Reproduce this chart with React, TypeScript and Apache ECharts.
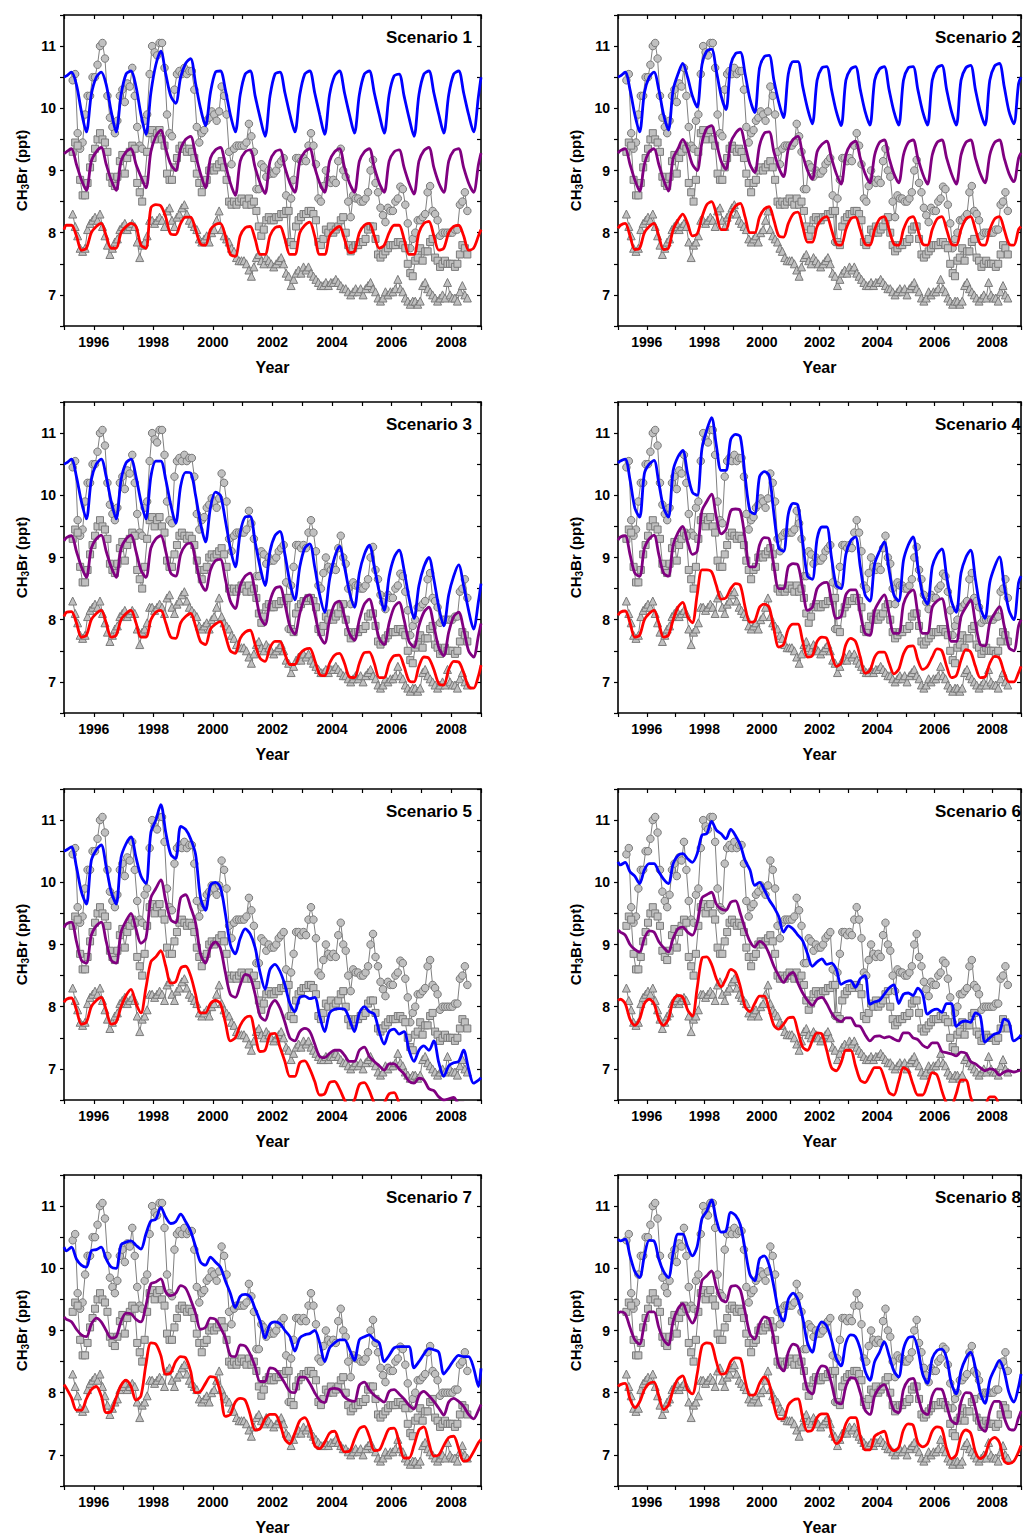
import React, { useEffect, useRef } from "react";
import * as echarts from "echarts";

// ---------- labels ----------
const SCENARIOS = ["Scenario 1", "Scenario 2", "Scenario 3", "Scenario 4", "Scenario 5", "Scenario 6", "Scenario 7", "Scenario 8"];
const X_LABEL = "Year";
const Y_LABEL = "CH{s|3}Br (ppt)";
const X_MIN = 1995;
const X_MAX = 2009;
const Y_MIN = 6.5;
const Y_MAX = 11.5;

// ---------- observations (monthly, Jan..Dec, 1995-2008) ----------
const OBS_CIRCLES = [
  null, null, null, 10.45, 10.55, 9.6, 9.35, 9.45, 9.9, 10.2, 10.2, 10.5,
  10.5, 10.7, 11.0, 11.05, 10.8, 10.2, 9.85, 9.7, 9.6, 9.8, 10.2, 10.3,
  10.1, 10.4, 10.35, 10.65, 10.2, 9.7, 9.4, 9.35, 9.8, 9.9, 10.55, 11.0,
  10.9, 10.85, 11.05, 11.05, 10.65, 9.9, 9.6, 9.55, 10.3, 10.55, 10.6, 10.55,
  10.65, 10.55, 10.6, 10.6, 10.3, 9.7, 9.45, 9.6, 9.65, 9.8, 9.85, 9.95,
  9.9, 9.8, 9.95, 10.35, 10.2, 9.9, 9.3, 9.1, 9.35, 9.4, 9.4, 9.4,
  9.4, 9.45, 9.75, 9.55, 9.3, 8.7, 8.7, 9.1, 9.05, 8.9, 9.0, 8.95,
  8.95, 9.0, 9.1, 9.15, 9.2, 8.6, 7.85, 8.55, 8.85, 9.2, 9.2, 9.15,
  9.2, 9.15, 9.4, 9.6, 9.4, 9.1, 8.55, 8.5, 8.75, 9.0, 8.85, 8.8,
  8.85, 8.8, 9.15, 9.35, 9.0, 8.9, 8.5, 8.25, 8.6, 8.55, 8.55, 8.5,
  8.5, 8.55, 8.65, 9.0, 9.17, 8.8, 8.65, 8.4, 8.28, 8.17, 8.4, 8.35,
  8.35, 8.5, 8.55, 8.74, 8.7, 8.45, 8.15, 7.75, 7.9, 8.0, 8.2, 8.2,
  8.25, 8.3, 8.65, 8.75, 8.35, 8.3, 8.2, 7.95, 8.0, 8.0, 8.0, 8.0,
  8.0, 8.05, 8.05, 8.45, 8.5, 8.65, 8.35, null, null, null, null, null,
];
const OBS_SQUARES = [
  null, null, null, 9.3, 9.45, 9.4, 8.85, 8.6, 8.6, 8.8, 9.05, 9.2,
  9.35, 9.5, 9.6, 9.5, 9.45, 9.3, 8.9, 8.8, 8.75, 8.9, 9.15, 9.25,
  8.95, 9.2, 9.3, 9.4, 9.35, 8.8, 8.65, 8.5, 8.85, 9.3, 9.6, 9.65,
  9.5, 9.6, 9.65, 9.5, 9.4, 8.95, 8.85, 8.85, 9.05, 9.2, 9.35, 9.4,
  9.35, 9.3, 9.35, 9.3, 9.2, 8.95, 8.8, 8.65, 8.8, 8.85, 9.0, 9.05,
  9.0, 9.05, 9.1, 9.15, 9.05, 8.85, 8.5, 8.45, 8.5, 8.45, 8.5, 8.55,
  8.5, 8.45, 8.55, 8.45, 8.5, 8.35, 8.1, 7.95, 8.05, 8.2, 8.25, 8.2,
  8.2, 8.25, 8.25, 8.3, 8.3, 8.35, 8.35, 7.85, 7.8, 8.1, 8.2, 8.25,
  8.3, 8.3, 8.35, 8.35, 8.3, 8.2, 7.85, 7.8, 7.9, 8.05, 8.0, 8.1,
  8.0, 8.05, 8.1, 8.2, 8.25, 8.0, 7.8, 7.7, 7.75, 7.8, 7.8, 7.85,
  7.85, 7.9, 8.05, 8.1, 8.1, 7.9, 7.65, 7.6, 7.65, 7.7, 7.75, 7.8,
  7.8, 7.8, 7.85, 7.85, 7.8, 7.75, 7.5, 7.35, 7.3, 7.55, 7.6, 7.75,
  7.55, 7.7, 7.7, 7.85, 7.9, 7.6, 7.55, 7.45, 7.5, 7.55, 7.5, 7.5,
  7.5, 7.45, 7.5, 7.65, 7.8, 7.75, 7.65, null, null, null, null, null,
];
const OBS_TRIANGLES = [
  null, null, null, 8.3, 8.1, 7.95, 7.75, 7.7, 7.75, 8.05, 8.15, 8.2,
  8.25, 8.2, 8.3, 8.1, 7.95, 7.8, 7.65, 7.75, 7.85, 7.9, 8.05, 8.1,
  8.15, 8.05, 8.1, 8.15, 8.1, 7.85, 7.6, 7.8, 7.85, 7.95, 8.2, 8.2,
  8.15, 8.2, 8.25, 8.2, 8.1, 8.35, 8.4, 8.2, 8.1, 8.25, 8.3, 8.4,
  8.45, 8.3, 8.2, 8.15, 8.1, 8.05, 7.9, 7.85, 7.9, 7.95, 7.85, 8.0,
  8.05, 8.2, 8.35, 8.05, 7.95, 7.9, 7.85, 7.75, 7.7, 7.6, 7.55, 7.55,
  7.55, 7.5, 7.4, 7.3, 7.45, 7.6, 7.65, 7.55, 7.5, 7.6, 7.55, 7.5,
  7.45, 7.5, 7.55, 7.6, 7.5, 7.35, 7.3, 7.15, 7.25, 7.35, 7.4, 7.35,
  7.45, 7.4, 7.45, 7.35, 7.3, 7.25, 7.2, 7.15, 7.15, 7.2, 7.15, 7.2,
  7.2, 7.25, 7.2, 7.15, 7.1, 7.1, 7.05, 7.0, 7.05, 7.1, 7.05, 7.1,
  7.0, 7.1, 7.15, 7.2, 7.1, 7.05, 6.95, 6.9, 6.95, 7.05, 7.0, 7.05,
  7.05, 7.1, 7.25, 7.1, 7.05, 6.95, 6.9, 6.85, 6.9, 6.9, 6.85, 6.9,
  7.15, 7.2, 7.1, 7.05, 7.0, 6.95, 6.9, 6.95, 7.0, 6.95, 7.2, 7.0,
  6.95, 6.95, 6.9, 7.05, 7.15, 7.0, 6.95, null, null, null, null, null,
];

// ---------- model runs: Jan 1995, then Feb/Apr/Jun/Aug/Oct/Dec of each year, then Jan 2009 ----------
const S1_BLUE = [10.5,
  10.52, 10.58, 10.38, 9.95, 9.62, 10.22,
  10.5, 10.58, 10.38, 9.95, 9.62, 10.22,
  10.55, 10.6, 10.35, 9.9, 9.58, 10.25,
  10.7, 10.92, 10.55, 10.2, 10.08, 10.5,
  10.72, 10.8, 10.4, 10.0, 9.72, 10.25,
  10.58, 10.6, 10.3, 9.9, 9.62, 10.22,
  10.55, 10.6, 10.2, 9.85, 9.55, 10.2,
  10.55, 10.58, 10.25, 9.9, 9.62, 10.22,
  10.55, 10.6, 10.25, 9.9, 9.58, 10.22,
  10.52, 10.6, 10.25, 9.9, 9.6, 10.22,
  10.55, 10.6, 10.25, 9.9, 9.6, 10.22,
  10.52, 10.55, 10.2, 9.85, 9.55, 10.22,
  10.55, 10.6, 10.25, 9.9, 9.6, 10.22,
  10.55, 10.6, 10.25, 9.9, 9.62, 10.2,
  10.5];
const S1_PURPLE = [9.27,
  9.3, 9.35, 9.1, 8.85, 8.68, 9.15,
  9.3, 9.37, 9.1, 8.85, 8.68, 9.15,
  9.3, 9.35, 9.1, 8.9, 8.72, 9.3,
  9.55, 9.65, 9.35, 9.1, 9.0, 9.35,
  9.5, 9.55, 9.25, 8.95, 8.72, 9.2,
  9.33, 9.37, 9.1, 8.8, 8.6, 9.15,
  9.3, 9.33, 9.05, 8.8, 8.63, 9.15,
  9.3, 9.33, 9.05, 8.8, 8.65, 9.15,
  9.3, 9.35, 9.05, 8.8, 8.65, 9.15,
  9.3, 9.35, 9.05, 8.8, 8.65, 9.15,
  9.3, 9.35, 9.05, 8.8, 8.65, 9.15,
  9.3, 9.33, 9.05, 8.8, 8.62, 9.15,
  9.32, 9.37, 9.05, 8.8, 8.65, 9.15,
  9.32, 9.35, 9.05, 8.8, 8.65, 9.1,
  9.28];
const S1_RED = [8.05,
  8.12, 8.12, 7.95, 7.72, 7.75, 8.0,
  8.1, 8.15, 7.95, 7.75, 7.75, 8.0,
  8.1, 8.15, 8.1, 7.8, 7.75, 8.4,
  8.45, 8.43, 8.25, 7.98, 7.97, 8.15,
  8.25, 8.25, 8.05, 7.82, 7.8, 8.05,
  8.13, 8.15, 7.95, 7.65, 7.62, 7.95,
  8.08, 8.1, 7.9, 7.65, 7.65, 7.95,
  8.08, 8.1, 7.9, 7.65, 7.65, 8.0,
  8.12, 8.17, 7.95, 7.65, 7.65, 7.95,
  8.05, 8.1, 7.9, 7.68, 7.7, 8.0,
  8.12, 8.15, 7.95, 7.75, 7.8, 8.0,
  8.12, 8.12, 7.9, 7.65, 7.65, 8.0,
  8.15, 8.18, 7.95, 7.72, 7.75, 8.0,
  8.1, 8.12, 7.95, 7.72, 7.75, 7.95,
  8.05];

const S2_BLUE = [10.5,
  10.52, 10.58, 10.3, 9.9, 9.62, 10.25,
  10.5, 10.58, 10.3, 9.9, 9.65, 10.3,
  10.55, 10.72, 10.5, 10.2, 10.02, 10.7,
  10.92, 10.95, 10.6, 10.2, 9.98, 10.7,
  10.88, 10.9, 10.55, 10.15, 9.93, 10.65,
  10.83, 10.85, 10.45, 10.1, 9.85, 10.55,
  10.75, 10.75, 10.35, 10.0, 9.75, 10.45,
  10.65, 10.67, 10.3, 9.95, 9.72, 10.45,
  10.63, 10.67, 10.3, 9.95, 9.73, 10.45,
  10.63, 10.67, 10.3, 9.95, 9.73, 10.45,
  10.65, 10.67, 10.3, 9.95, 9.73, 10.45,
  10.65, 10.69, 10.3, 9.95, 9.73, 10.45,
  10.65, 10.69, 10.3, 9.95, 9.73, 10.45,
  10.68, 10.72, 10.35, 9.95, 9.75, 10.4,
  10.5];
const S2_PURPLE = [9.28,
  9.32, 9.35, 9.1, 8.85, 8.67, 9.1,
  9.3, 9.35, 9.1, 8.85, 8.67, 9.2,
  9.35, 9.5, 9.35, 9.1, 9.0, 9.45,
  9.68, 9.72, 9.45, 9.15, 9.02, 9.45,
  9.6, 9.67, 9.4, 9.1, 8.97, 9.4,
  9.6, 9.62, 9.3, 9.05, 8.9, 9.35,
  9.5, 9.55, 9.25, 9.0, 8.86, 9.3,
  9.42, 9.47, 9.2, 8.95, 8.78, 9.25,
  9.42, 9.47, 9.2, 8.95, 8.8, 9.25,
  9.45, 9.49, 9.2, 8.95, 8.8, 9.25,
  9.45, 9.49, 9.2, 8.95, 8.78, 9.25,
  9.45, 9.49, 9.2, 8.95, 8.78, 9.25,
  9.45, 9.49, 9.2, 8.95, 8.8, 9.25,
  9.45, 9.49, 9.2, 8.95, 8.82, 9.2,
  9.28];
const S2_RED = [8.07,
  8.12, 8.15, 7.95, 7.73, 7.75, 8.0,
  8.1, 8.15, 7.95, 7.73, 7.75, 8.05,
  8.2, 8.3, 8.15, 7.95, 7.98, 8.25,
  8.45, 8.5, 8.3, 8.05, 8.05, 8.3,
  8.43, 8.47, 8.25, 8.0, 8.0, 8.25,
  8.38, 8.42, 8.2, 7.95, 7.93, 8.15,
  8.3, 8.33, 8.1, 7.85, 7.85, 8.1,
  8.22, 8.26, 8.05, 7.82, 7.8, 8.05,
  8.22, 8.25, 8.05, 7.82, 7.8, 8.05,
  8.22, 8.26, 8.05, 7.82, 7.8, 8.05,
  8.22, 8.26, 8.05, 7.82, 7.8, 8.05,
  8.22, 8.26, 8.05, 7.82, 7.8, 8.05,
  8.22, 8.26, 8.05, 7.82, 7.8, 8.05,
  8.22, 8.26, 8.05, 7.82, 7.8, 8.05,
  8.1];

const S3_BLUE = [10.5,
  10.52, 10.58, 10.3, 9.9, 9.62, 10.25,
  10.5, 10.58, 10.3, 9.9, 9.62, 10.25,
  10.52, 10.58, 10.3, 9.9, 9.62, 10.3,
  10.55, 10.55, 10.25, 9.85, 9.55, 10.15,
  10.37, 10.36, 10.0, 9.55, 9.25, 9.8,
  10.05, 10.0, 9.6, 9.15, 8.85, 9.4,
  9.65, 9.66, 9.25, 8.85, 8.55, 9.1,
  9.35, 9.42, 9.05, 8.6, 8.32, 8.85,
  9.15, 9.22, 8.85, 8.4, 8.12, 8.65,
  9.0, 9.18, 8.85, 8.45, 8.2, 8.75,
  9.05, 9.2, 8.85, 8.45, 8.15, 8.7,
  9.0, 9.12, 8.8, 8.35, 8.02, 8.55,
  8.85, 9.0, 8.65, 8.2, 7.9, 8.4,
  8.7, 8.88, 8.55, 8.15, 7.85, 8.3,
  8.58];
const S3_PURPLE = [9.27,
  9.32, 9.35, 9.1, 8.85, 8.68, 9.15,
  9.3, 9.36, 9.1, 8.85, 8.68, 9.15,
  9.3, 9.36, 9.1, 8.8, 8.68, 9.15,
  9.3, 9.35, 9.1, 8.75, 8.7, 9.05,
  9.2, 9.23, 8.95, 8.6, 8.47, 8.8,
  8.95, 8.97, 8.65, 8.3, 8.18, 8.55,
  8.7, 8.75, 8.45, 8.05, 7.92, 8.3,
  8.5, 8.53, 8.25, 7.9, 7.77, 8.1,
  8.35, 8.4, 8.1, 7.75, 7.62, 8.0,
  8.25, 8.3, 8.05, 7.78, 7.67, 8.0,
  8.25, 8.33, 8.05, 7.7, 7.6, 7.95,
  8.2, 8.28, 8.0, 7.65, 7.56, 7.9,
  8.12, 8.2, 7.9, 7.55, 7.42, 7.8,
  8.05, 8.12, 7.85, 7.5, 7.4, 7.75,
  7.94];
const S3_RED = [8.05,
  8.12, 8.13, 7.95, 7.72, 7.75, 8.0,
  8.1, 8.15, 7.95, 7.72, 7.75, 8.0,
  8.1, 8.15, 7.95, 7.72, 7.72, 8.0,
  8.12, 8.15, 7.95, 7.72, 7.7, 7.95,
  8.05, 8.1, 7.9, 7.65, 7.6, 7.85,
  7.93, 7.97, 7.75, 7.5, 7.46, 7.7,
  7.8, 7.83, 7.6, 7.38, 7.33, 7.55,
  7.65, 7.65, 7.45, 7.28, 7.28, 7.45,
  7.52, 7.54, 7.35, 7.12, 7.1, 7.3,
  7.43, 7.46, 7.3, 7.08, 7.07, 7.3,
  7.47, 7.48, 7.3, 7.07, 7.07, 7.3,
  7.42, 7.43, 7.25, 7.02, 7.0, 7.25,
  7.4, 7.38, 7.2, 6.97, 6.95, 7.2,
  7.33, 7.32, 7.15, 6.92, 6.9, 7.1,
  7.27];

const S4_BLUE = [10.52,
  10.55, 10.58, 10.25, 9.8, 9.65, 10.35,
  10.5, 10.56, 10.2, 9.8, 9.65, 10.4,
  10.62, 10.72, 10.35, 10.05, 10.0, 10.75,
  11.05, 11.25, 10.8, 10.4, 10.4, 10.9,
  10.98, 10.94, 10.3, 9.75, 9.7, 10.3,
  10.38, 10.32, 9.7, 9.15, 9.1, 9.7,
  9.87, 9.84, 9.25, 8.7, 8.65, 9.3,
  9.49, 9.49, 9.0, 8.55, 8.5, 9.05,
  9.27, 9.33, 8.85, 8.4, 8.3, 8.9,
  9.1, 9.25, 8.8, 8.4, 8.3, 8.95,
  9.2, 9.33, 8.85, 8.4, 8.25, 8.85,
  9.05, 9.14, 8.7, 8.3, 8.12, 8.75,
  9.0, 9.12, 8.65, 8.2, 8.02, 8.6,
  8.85, 9.01, 8.55, 8.15, 8.0, 8.6,
  8.7];
const S4_PURPLE = [9.28,
  9.33, 9.35, 9.05, 8.75, 8.7, 9.15,
  9.3, 9.36, 9.05, 8.75, 8.7, 9.2,
  9.4, 9.5, 9.25, 9.05, 9.1, 9.75,
  9.9, 10.02, 9.65, 9.38, 9.45, 9.75,
  9.78, 9.75, 9.3, 8.85, 8.85, 9.2,
  9.32, 9.3, 8.85, 8.5, 8.5, 8.85,
  8.9, 8.88, 8.5, 8.15, 8.2, 8.5,
  8.58, 8.6, 8.3, 8.02, 8.05, 8.4,
  8.48, 8.48, 8.1, 7.78, 7.75, 8.15,
  8.3, 8.4, 8.1, 7.78, 7.78, 8.25,
  8.42, 8.48, 8.1, 7.78, 7.78, 8.2,
  8.3, 8.34, 8.0, 7.65, 7.65, 8.05,
  8.2, 8.32, 7.95, 7.6, 7.58, 7.95,
  8.1, 8.21, 7.9, 7.55, 7.5, 7.9,
  8.0];
const S4_RED = [8.07,
  8.12, 8.14, 7.95, 7.72, 7.75, 8.0,
  8.1, 8.15, 7.95, 7.72, 7.75, 8.0,
  8.2, 8.28, 8.05, 7.95, 8.4, 8.8,
  8.8, 8.77, 8.55, 8.33, 8.35, 8.5,
  8.58, 8.55, 8.2, 7.96, 7.98, 8.2,
  8.25, 8.2, 7.85, 7.56, 7.6, 7.85,
  7.93, 7.93, 7.65, 7.4, 7.42, 7.65,
  7.72, 7.7, 7.45, 7.25, 7.3, 7.6,
  7.7, 7.65, 7.4, 7.14, 7.18, 7.4,
  7.48, 7.48, 7.3, 7.13, 7.2, 7.45,
  7.57, 7.58, 7.35, 7.2, 7.25, 7.4,
  7.53, 7.5, 7.25, 7.07, 7.1, 7.35,
  7.52, 7.48, 7.25, 7.07, 7.08, 7.3,
  7.41, 7.38, 7.15, 7.0, 7.0, 7.15,
  7.25];

const S5_BLUE = [10.5,
  10.52, 10.57, 10.25, 9.85, 9.65, 10.35,
  10.52, 10.6, 10.25, 9.85, 9.65, 10.4,
  10.62, 10.73, 10.4, 10.1, 9.98, 10.8,
  11.0, 11.25, 10.8, 10.45, 10.38, 10.9,
  10.85, 10.7, 10.45, 9.75, 9.55, 9.95,
  10.0, 9.92, 9.5, 9.0, 8.85, 9.1,
  9.25, 9.17, 8.95, 8.55, 8.28, 8.6,
  8.68, 8.57, 8.35, 8.05, 7.92, 8.15,
  8.17, 8.13, 8.15, 7.85, 7.6, 7.9,
  7.96, 7.97, 7.96, 7.8, 7.6, 7.9,
  8.0, 7.92, 7.88, 7.6, 7.4, 7.6,
  7.64, 7.56, 7.6, 7.3, 7.12, 7.3,
  7.37, 7.3, 7.45, 7.1, 6.88, 7.05,
  7.1, 7.12, 7.3, 7.0, 6.77, 6.82,
  6.86];
const S5_PURPLE = [9.27,
  9.33, 9.36, 9.05, 8.75, 8.7, 9.15,
  9.3, 9.36, 9.05, 8.75, 8.7, 9.2,
  9.38, 9.5, 9.25, 9.02, 9.1, 9.75,
  9.9, 10.04, 9.7, 9.4, 9.35, 9.75,
  9.8, 9.6, 9.35, 8.85, 8.7, 8.95,
  9.04, 8.94, 8.55, 8.2, 8.15, 8.35,
  8.52, 8.48, 8.2, 7.85, 7.78, 8.0,
  8.1, 7.98, 7.75, 7.5, 7.45, 7.6,
  7.65, 7.6, 7.4, 7.2, 7.18, 7.25,
  7.3, 7.3, 7.22, 7.12, 7.12, 7.3,
  7.35, 7.2, 7.12, 7.05, 6.98, 7.08,
  7.08, 7.0, 6.92, 6.8, 6.77, 6.85,
  6.82, 6.68, 6.65, 6.55, 6.5, 6.52,
  6.54, 6.45, 6.45, 6.35, 6.3, 6.3,
  6.3];
const S5_RED = [8.07,
  8.12, 8.14, 7.95, 7.72, 7.75, 8.0,
  8.1, 8.15, 7.95, 7.72, 7.75, 8.0,
  8.18, 8.28, 8.05, 7.9, 8.3, 8.72,
  8.8, 8.9, 8.65, 8.38, 8.4, 8.62,
  8.65, 8.5, 8.2, 7.9, 7.9, 8.05,
  8.1, 8.05, 7.75, 7.45, 7.5, 7.7,
  7.82, 7.85, 7.55, 7.28, 7.3, 7.55,
  7.57, 7.35, 7.12, 6.88, 6.88, 7.1,
  7.13, 7.0, 6.8, 6.58, 6.6, 6.78,
  6.8, 6.68, 6.5, 6.38, 6.5, 6.75,
  6.78, 6.65, 6.45, 6.35, 6.45, 6.6,
  6.62, 6.45, 6.3, 6.2, 6.25, 6.4,
  6.4, 6.3, 6.15, 6.05, 6.1, 6.25,
  6.3, 6.2, 6.05, 5.95, 6.0, 6.15,
  6.2];

const S6_BLUE = [10.33,
  10.28, 10.32, 10.17, 10.1, 9.98, 10.2,
  10.3, 10.3, 10.17, 10.05, 9.98, 10.3,
  10.43, 10.46, 10.38, 10.32, 10.46, 10.76,
  10.78, 10.98, 10.84, 10.78, 10.7, 10.85,
  10.75, 10.6, 10.35, 10.2, 9.95, 10.0,
  9.88, 9.72, 9.6, 9.45, 9.2, 9.3,
  9.25, 9.15, 9.06, 8.85, 8.65, 8.72,
  8.77, 8.68, 8.7, 8.6, 8.36, 8.4,
  8.42, 8.31, 8.45, 8.5, 8.04, 8.08,
  8.1, 8.2, 8.3, 8.35, 8.05, 8.2,
  8.22, 8.18, 8.3, 8.2, 7.88, 7.94,
  7.96, 7.91, 8.05, 8.05, 7.68, 7.75,
  7.77, 7.75, 7.9, 7.85, 7.43, 7.5,
  7.56, 7.59, 7.8, 7.75, 7.45, 7.5,
  7.55];
const S6_PURPLE = [9.23,
  9.2, 9.15, 9.0, 8.92, 8.88, 9.1,
  9.22, 9.2, 9.05, 8.95, 8.88, 9.1,
  9.25, 9.28, 9.2, 9.15, 9.35, 9.75,
  9.8, 9.84, 9.65, 9.57, 9.55, 9.68,
  9.7, 9.5, 9.25, 9.05, 8.96, 9.05,
  9.0, 8.85, 8.65, 8.5, 8.39, 8.5,
  8.55, 8.38, 8.22, 8.1, 8.02, 8.12,
  8.15, 8.05, 7.9, 7.8, 7.76, 7.82,
  7.82, 7.7, 7.68, 7.55, 7.45, 7.52,
  7.53, 7.5, 7.52, 7.48, 7.45, 7.58,
  7.58, 7.5, 7.47, 7.38, 7.34, 7.42,
  7.42, 7.28, 7.26, 7.24, 7.21, 7.27,
  7.25, 7.12, 7.08, 7.02, 6.97, 7.0,
  6.98, 6.9, 6.95, 6.97, 6.95, 6.97,
  6.98];
const S6_RED = [8.1,
  8.12, 8.05, 7.8, 7.7, 7.8, 8.05,
  8.12, 8.05, 7.8, 7.7, 7.8, 8.1,
  8.18, 8.15, 7.95, 7.85, 8.3, 8.78,
  8.8, 8.68, 8.45, 8.32, 8.45, 8.6,
  8.55, 8.32, 8.0, 7.92, 8.05, 8.17,
  8.17, 7.95, 7.7, 7.64, 7.72, 7.82,
  7.83, 7.6, 7.35, 7.3, 7.45, 7.58,
  7.56, 7.3, 7.02, 6.97, 7.1, 7.3,
  7.3, 7.05, 6.82, 6.78, 6.9, 7.02,
  7.02, 6.85, 6.62, 6.58, 6.8, 7.02,
  6.97, 6.75, 6.58, 6.58, 6.75, 6.94,
  6.9, 6.65, 6.45, 6.42, 6.6, 6.82,
  6.82, 6.55, 6.35, 6.3, 6.4, 6.55,
  6.55, 6.4, 6.2, 6.15, 6.25, 6.4,
  6.45];

const S7_BLUE = [10.34,
  10.28, 10.34, 10.15, 10.05, 10.02, 10.28,
  10.3, 10.34, 10.15, 10.02, 10.0, 10.38,
  10.42, 10.44, 10.37, 10.31, 10.55, 10.76,
  10.79, 10.98, 10.82, 10.72, 10.75, 10.87,
  10.75, 10.6, 10.35, 10.1, 10.05, 10.18,
  10.1, 10.02, 9.8, 9.6, 9.37, 9.55,
  9.58, 9.54, 9.35, 9.15, 8.88, 9.1,
  9.14, 9.11, 9.0, 8.9, 8.67, 8.88,
  8.93, 8.95, 9.0, 8.8, 8.5, 8.72,
  8.8, 8.85, 8.85, 8.7, 8.52, 8.85,
  8.9, 8.93, 8.85, 8.8, 8.5, 8.6,
  8.72, 8.74, 8.74, 8.74, 8.4, 8.5,
  8.62, 8.71, 8.69, 8.65, 8.3, 8.4,
  8.52, 8.6, 8.58, 8.58, 8.4, 8.1,
  8.39];
const S7_PURPLE = [9.22,
  9.18, 9.14, 9.02, 8.93, 8.9, 9.1,
  9.2, 9.14, 9.0, 8.88, 8.9, 9.15,
  9.28, 9.27, 9.18, 9.14, 9.4, 9.75,
  9.78, 9.83, 9.62, 9.56, 9.6, 9.72,
  9.68, 9.5, 9.28, 9.02, 9.05, 9.2,
  9.18, 9.05, 8.88, 8.6, 8.58, 8.77,
  8.75, 8.62, 8.42, 8.18, 8.18, 8.4,
  8.38, 8.28, 8.15, 8.02, 8.0, 8.25,
  8.25, 8.15, 8.0, 7.88, 7.84, 8.05,
  8.07, 8.05, 7.93, 7.88, 7.86, 8.12,
  8.17, 8.05, 7.96, 7.9, 7.85, 8.02,
  8.05, 7.98, 7.9, 7.8, 7.74, 7.95,
  8.02, 7.95, 7.86, 7.75, 7.64, 7.85,
  7.91, 7.86, 7.78, 7.65, 7.58, 7.72,
  7.81];
const S7_RED = [8.13,
  8.07, 7.92, 7.72, 7.72, 7.9, 8.05,
  8.1, 7.95, 7.68, 7.7, 7.92, 8.12,
  8.2, 8.1, 7.88, 7.95, 8.45, 8.8,
  8.78, 8.6, 8.3, 8.32, 8.5, 8.58,
  8.56, 8.35, 8.0, 8.02, 8.15, 8.26,
  8.24, 8.0, 7.62, 7.65, 7.85, 7.91,
  7.88, 7.65, 7.4, 7.42, 7.58, 7.65,
  7.65, 7.5, 7.25, 7.18, 7.35, 7.55,
  7.6, 7.45, 7.15, 7.1, 7.2, 7.35,
  7.38, 7.2, 7.05, 7.06, 7.25, 7.42,
  7.46, 7.3, 7.07, 7.08, 7.25, 7.42,
  7.43, 7.2, 6.95, 6.95, 7.15, 7.4,
  7.45, 7.2, 6.98, 7.0, 7.15, 7.28,
  7.3, 7.1, 6.9, 6.92, 7.05, 7.2,
  7.25];

const S8_BLUE = [10.47,
  10.44, 10.47, 10.2, 9.95, 9.85, 10.2,
  10.45, 10.44, 10.15, 9.95, 9.85, 10.25,
  10.55, 10.55, 10.35, 10.2, 10.35, 10.8,
  10.92, 11.1, 10.78, 10.58, 10.6, 10.9,
  10.85, 10.7, 10.3, 9.9, 9.8, 10.15,
  10.2, 10.05, 9.7, 9.3, 9.15, 9.5,
  9.6, 9.5, 9.2, 8.8, 8.65, 9.0,
  9.14, 9.07, 8.85, 8.55, 8.43, 8.8,
  8.93, 8.9, 8.7, 8.35, 8.2, 8.5,
  8.65, 8.82, 8.6, 8.35, 8.25, 8.7,
  8.88, 8.9, 8.7, 8.3, 8.15, 8.55,
  8.68, 8.7, 8.55, 8.15, 7.98, 8.35,
  8.55, 8.65, 8.4, 8.0, 7.83, 8.2,
  8.38, 8.52, 8.34, 8.0, 7.85, 8.1,
  8.3];
const S8_PURPLE = [9.28,
  9.3, 9.27, 9.05, 8.85, 8.78, 9.1,
  9.3, 9.3, 9.05, 8.85, 8.77, 9.15,
  9.35, 9.43, 9.25, 9.12, 9.3, 9.8,
  9.88, 9.96, 9.7, 9.5, 9.46, 9.7,
  9.72, 9.65, 9.3, 8.95, 8.86, 9.1,
  9.22, 9.18, 8.85, 8.45, 8.35, 8.65,
  8.78, 8.74, 8.4, 8.05, 7.98, 8.3,
  8.43, 8.4, 8.15, 7.85, 7.82, 8.1,
  8.24, 8.22, 8.0, 7.72, 7.65, 7.95,
  8.08, 8.13, 7.95, 7.72, 7.68, 8.05,
  8.2, 8.23, 7.95, 7.7, 7.65, 7.95,
  8.06, 8.05, 7.8, 7.55, 7.5, 7.85,
  8.0, 7.99, 7.75, 7.45, 7.38, 7.7,
  7.86, 7.86, 7.6, 7.42, 7.4, 7.6,
  7.7];
const S8_RED = [8.1,
  8.13, 8.15, 7.9, 7.76, 7.85, 8.05,
  8.15, 8.17, 7.95, 7.73, 7.8, 8.05,
  8.22, 8.27, 8.05, 7.98, 8.3, 8.75,
  8.8, 8.78, 8.5, 8.3, 8.32, 8.5,
  8.56, 8.55, 8.2, 7.96, 7.97, 8.15,
  8.26, 8.15, 7.8, 7.58, 7.58, 7.8,
  7.88, 7.9, 7.6, 7.38, 7.4, 7.6,
  7.66, 7.66, 7.35, 7.18, 7.25, 7.5,
  7.6, 7.6, 7.3, 7.08, 7.08, 7.3,
  7.35, 7.38, 7.15, 7.07, 7.12, 7.4,
  7.5, 7.48, 7.2, 7.13, 7.18, 7.38,
  7.45, 7.42, 7.1, 6.94, 7.0, 7.3,
  7.4, 7.35, 7.05, 6.94, 7.0, 7.22,
  7.28, 7.2, 6.9, 6.86, 6.9, 7.05,
  7.15];

const MODEL_RUNS = [
  [S1_BLUE, S1_PURPLE, S1_RED],
  [S2_BLUE, S2_PURPLE, S2_RED],
  [S3_BLUE, S3_PURPLE, S3_RED],
  [S4_BLUE, S4_PURPLE, S4_RED],
  [S5_BLUE, S5_PURPLE, S5_RED],
  [S6_BLUE, S6_PURPLE, S6_RED],
  [S7_BLUE, S7_PURPLE, S7_RED],
  [S8_BLUE, S8_PURPLE, S8_RED],
];

// ---------- time coordinates ----------
const OBS_TIMES: number[] = [];
for (let y = 1995; y <= 2008; y++) for (let m = 0; m < 12; m++) OBS_TIMES.push(y + (m + 0.5) / 12);
const MODEL_TIMES: number[] = [1995];
for (let y = 1995; y <= 2008; y++) for (const m of [1, 3, 5, 7, 9, 11]) MODEL_TIMES.push(y + m / 12);
MODEL_TIMES.push(2009);

// ---------- styling / layout ----------
const FONT = "'Liberation Sans', Arial, Helvetica, sans-serif";
const LINE_COLORS = ["#0000ff", "#800080", "#ff0000"];
const PANEL_LEFT = [64, 618];
const PANEL_TOP = [15, 402, 789, 1175];
const PANEL_W = 417;
const PANEL_H = 311;
const PAGE_W = 1024;

function pairs(times: number[], vals: (number | null)[]) {
  const out: number[][] = [];
  vals.forEach((v, i) => {
    if (v !== null && v !== undefined) out.push([times[i], v]);
  });
  return out;
}

function buildOption() {
  const grid: any[] = [];
  const xAxis: any[] = [];
  const yAxis: any[] = [];
  const series: any[] = [];
  const graphic: any[] = [];
  const axisLine = { show: true, onZero: false, lineStyle: { color: "#000", width: 1.6 } };
  const tickStyle = { color: "#000", width: 1.2 };

  SCENARIOS.forEach((name, i) => {
    const col = i % 2;
    const row = Math.floor(i / 2);
    const left = PANEL_LEFT[col];
    const top = PANEL_TOP[row];
    grid.push({ left, top, width: PANEL_W, height: PANEL_H, containLabel: false });

    xAxis.push({
      gridIndex: i, type: "value", position: "bottom", min: X_MIN, max: X_MAX, interval: 1,
      axisLine, axisTick: { show: true, inside: false, length: 4, lineStyle: tickStyle },
      axisLabel: {
        formatter: (v: number) => (Math.round(v) % 2 === 0 ? String(Math.round(v)) : ""),
        fontSize: 14, fontWeight: "bold", color: "#000", margin: 9, fontFamily: FONT,
      },
      splitLine: { show: false },
      name: X_LABEL, nameLocation: "middle", nameGap: 33,
      nameTextStyle: { fontSize: 16, fontWeight: "bold", color: "#000", fontFamily: FONT },
    });
    xAxis.push({
      gridIndex: i, type: "value", position: "top", min: X_MIN, max: X_MAX, interval: 1,
      axisLine, axisTick: { show: true, inside: true, length: 4, lineStyle: tickStyle },
      axisLabel: { show: false }, splitLine: { show: false },
    });
    yAxis.push({
      gridIndex: i, type: "value", position: "left", min: Y_MIN, max: Y_MAX, interval: 0.5,
      axisLine, axisTick: { show: true, inside: false, length: 4, lineStyle: tickStyle },
      axisLabel: {
        formatter: (v: number) => (Math.abs(v - Math.round(v)) < 1e-6 ? String(Math.round(v)) : ""),
        fontSize: 14, fontWeight: "bold", color: "#000", margin: 8, fontFamily: FONT,
      },
      splitLine: { show: false },
      name: Y_LABEL, nameLocation: "middle", nameRotate: 90, nameGap: 34,
      nameTextStyle: {
        fontSize: 15, fontWeight: "bold", color: "#000", fontFamily: FONT, lineHeight: 18,
        rich: { s: { fontSize: 10, fontWeight: "bold", color: "#000", fontFamily: FONT, verticalAlign: "bottom", lineHeight: 10 } },
      },
    });
    yAxis.push({
      gridIndex: i, type: "value", position: "right", min: Y_MIN, max: Y_MAX, interval: 0.5,
      axisLine, axisTick: { show: true, inside: true, length: 4, lineStyle: tickStyle },
      axisLabel: { show: false }, splitLine: { show: false },
    });

    const obsDefs: [any[], string, number][] = [
      [OBS_CIRCLES, "circle", 7.5],
      [OBS_SQUARES, "rect", 7],
      [OBS_TRIANGLES, "triangle", 8],
    ];
    obsDefs.forEach(([vals, sym, size], k) => {
      series.push({
        type: "line", name: "obs" + k, xAxisIndex: 2 * i, yAxisIndex: 2 * i,
        data: pairs(OBS_TIMES, vals), symbol: sym, symbolSize: size, showSymbol: true,
        lineStyle: { color: "#808080", width: 1 },
        itemStyle: { color: "#c0c0c0", borderColor: "#7a7a7a", borderWidth: 1 },
        z: 2, silent: true,
      });
    });
    MODEL_RUNS[i].forEach((vals, k) => {
      series.push({
        type: "line", name: "model" + k, xAxisIndex: 2 * i, yAxisIndex: 2 * i,
        data: pairs(MODEL_TIMES, vals), symbol: "none", smooth: 0.3,
        lineStyle: { color: LINE_COLORS[k], width: 2.8 }, z: 3, silent: true, clip: true,
      });
    });

    const titleRight = Math.min(left + PANEL_W - 9, PAGE_W - 3);
    graphic.push({
      type: "text", x: titleRight, y: top + 22,
      style: {
        text: name, fill: "#000", fontSize: 17, fontWeight: "bold", fontFamily: FONT,
        textAlign: "right", textVerticalAlign: "middle",
      },
      z: 10,
    });
  });

  return { animation: false, backgroundColor: "#fff", grid, xAxis, yAxis, series, graphic };
}

export default function App() {
  const ref = useRef<HTMLDivElement>(null);
  useEffect(() => {
    document.body.style.margin = "0";
    if (!ref.current) return;
    const chart = echarts.init(ref.current, undefined, { renderer: "svg" });
    chart.setOption(buildOption() as any);
    return () => chart.dispose();
  }, []);
  return <div ref={ref} style={{ width: PAGE_W, height: 1536, overflow: "hidden" }} />;
}
